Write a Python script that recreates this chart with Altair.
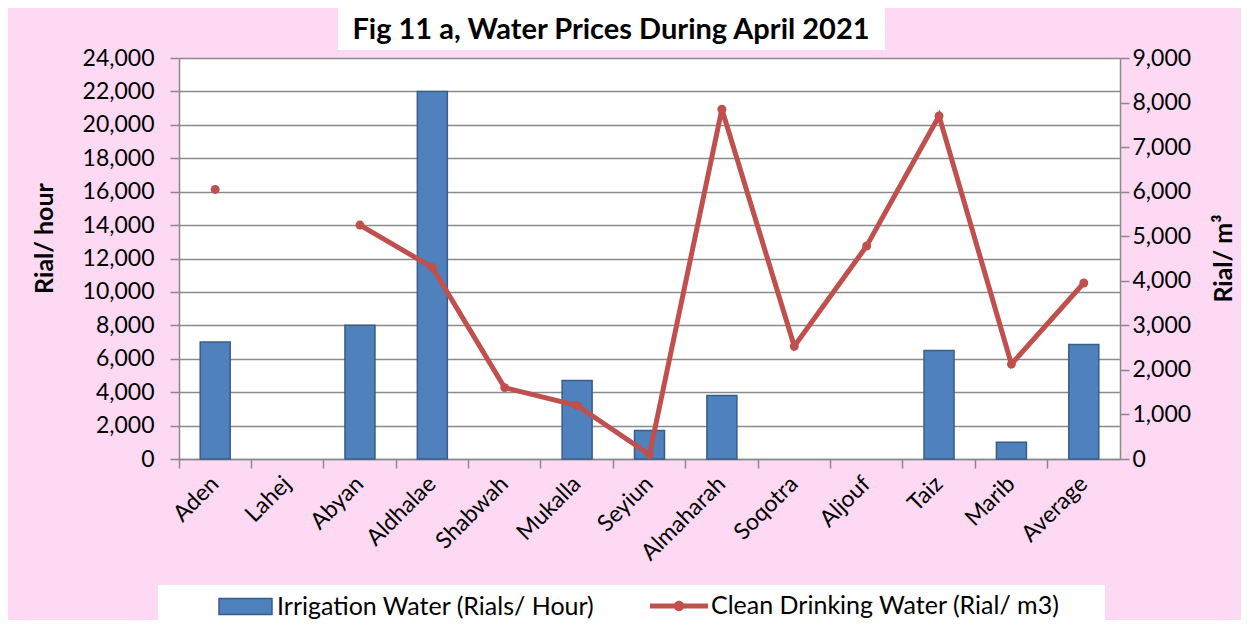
import altair as alt
import pandas as pd

# ---- data ----
regions = ["Aden", "Lahej", "Abyan", "Aldhalae", "Shabwah", "Mukalla", "Seyiun",
           "Almaharah", "Soqotra", "Aljouf", "Taiz", "Marib", "Average"]
irrigation = [7000, None, 8000, 22000, None, 4700, 1700, 3800, None, None, 6500, 1000, 6850]
drinking = [6050, None, 5250, 4300, 1600, 1200, 100, 7850, 2530, 4780, 7700, 2130, 3950]
left_ticks = list(range(0, 24001, 2000))
right_ticks = list(range(0, 9001, 1000))
title_text = "Fig 11 a, Water Prices During April 2021"
bar_series = "Irrigation Water (Rials/ Hour)"
line_series = "Clean Drinking Water (Rial/ m3)"
left_title = "Rial/ hour"
right_title = "Rial/ m³"

FONT = "Lato"
PINK = "#FDD9F3"
GRID = "#8A8A8A"
BLUE = "#4F81BD"
BLUE_EDGE = "#385D8A"
RED = "#C0504D"

W, H = 941, 401

bars_df = pd.DataFrame({"region": regions, "value": irrigation, "series": bar_series}).dropna()

seg, s = [], 0
for v in drinking:
    if v is None:
        s += 1
    seg.append(s)
line_df = pd.DataFrame({"region": regions, "value": drinking, "seg": seg, "series": line_series}).dropna()

x_enc = alt.X(
    "region:N",
    sort=regions,
    scale=alt.Scale(domain=regions, paddingInner=0, paddingOuter=0),
    axis=alt.Axis(
        title=None, labelAngle=-45, labelAlign="right", labelBaseline="middle",
        labelFontSize=23, labelFont=FONT, labelColor="black", labelPadding=12,
        bandPosition=0, labelOffset=0, tickSize=9, tickColor=GRID, tickWidth=1.5,
        domainColor=GRID, domainWidth=1.5, grid=False,
    ),
)

bars = alt.Chart(bars_df).mark_bar(width=30, stroke=BLUE_EDGE, strokeWidth=1.5).encode(
    x=x_enc,
    y=alt.Y("value:Q", scale=alt.Scale(domain=[0, 24000], nice=False),
            axis=alt.Axis(values=left_ticks, format=",.0f", grid=True, gridColor=GRID, gridWidth=1.5,
                          domainColor=GRID, domainWidth=1.5, tickColor=GRID, tickWidth=1.5, tickSize=9,
                          labelFontSize=23, labelFont=FONT, labelColor="black", labelPadding=16,
                          title=left_title, titleFont=FONT, titleFontSize=25, titleFontWeight="bold",
                          titleColor="black", titleX=-127, titleY=180, titleBaseline="alphabetic")),
    color=alt.Color("series:N", scale=alt.Scale(domain=[bar_series], range=[BLUE]),
                    legend=alt.Legend(title=None, orient="none", legendX=39, legendY=521,
                                      symbolType="M-1,-0.3 L1,-0.3 L1,0.3 L-1,0.3 Z", symbolSize=2809,
                                      symbolStrokeColor=BLUE_EDGE, symbolStrokeWidth=1.5,
                                      labelFont=FONT, labelFontSize=25, labelColor="black",
                                      labelOffset=4, labelLimit=500, padding=0)),
)

y2_scale = alt.Scale(domain=[0, 9000], nice=False)
y2_axis = alt.Axis(values=right_ticks, format=",.0f", orient="right", grid=False,
                   domainColor=GRID, domainWidth=1.5, tickColor=GRID, tickWidth=1.5, tickSize=9,
                   labelFontSize=23, labelFont=FONT, labelColor="black", labelPadding=3,
                   title=right_title, titleFont=FONT, titleFontSize=25, titleFontWeight="bold",
                   titleColor="black", titleAngle=-90, titleX=111, titleY=200, titleBaseline="alphabetic")

line = alt.Chart(line_df).mark_line(color=RED, strokeWidth=5).encode(
    x=x_enc,
    y=alt.Y("value:Q", scale=y2_scale, axis=y2_axis),
    detail="seg:N",
)
points = alt.Chart(line_df).mark_point(filled=True, size=80, opacity=1).encode(
    x=x_enc,
    y=alt.Y("value:Q", scale=y2_scale, axis=y2_axis),
    color=alt.Color("series:N", scale=alt.Scale(domain=[line_series], range=[RED]),
                    legend=alt.Legend(title=None, orient="none", legendX=471, legendY=519,
                                      symbolType="M-1,-0.09 L1,-0.09 L1,0.09 L-1,0.09 Z M0.18,0 A0.18,0.18 0 1,1 -0.18,0 A0.18,0.18 0 1,1 0.18,0 Z",
                                      symbolSize=3364, symbolStrokeWidth=0,
                                      labelFont=FONT, labelFontSize=25, labelColor="black",
                                      labelOffset=3, labelLimit=500, padding=0)),
)
right_layer = alt.layer(line, points)

one = pd.DataFrame({"t": [title_text]})
title_box = alt.Chart(one).mark_rect(color="white").encode(
    x=alt.value(159), x2=alt.value(706), y=alt.value(-50), y2=alt.value(-8))
title_mark = alt.Chart(one).mark_text(font=FONT, fontSize=29, fontWeight="bold", color="black",
                                      align="center", baseline="middle").encode(
    text="t:N", x=alt.value(432), y=alt.value(-28))
legend_box = alt.Chart(one).mark_rect(color="white").encode(
    x=alt.value(-21), x2=alt.value(926), y=alt.value(527), y2=alt.value(570))

chart = alt.layer(
    title_box, legend_box, bars, right_layer, title_mark
).resolve_scale(y="independent", color="independent").properties(
    width=W, height=H,
    autosize=alt.AutoSizeParams(type="none"),
    padding={"left": 171, "top": 50, "right": 121, "bottom": 161},
    background=PINK,
).configure_view(fill="white", stroke=None)

chart.save("out.html", embed_options={"renderer": "svg", "actions": False})
